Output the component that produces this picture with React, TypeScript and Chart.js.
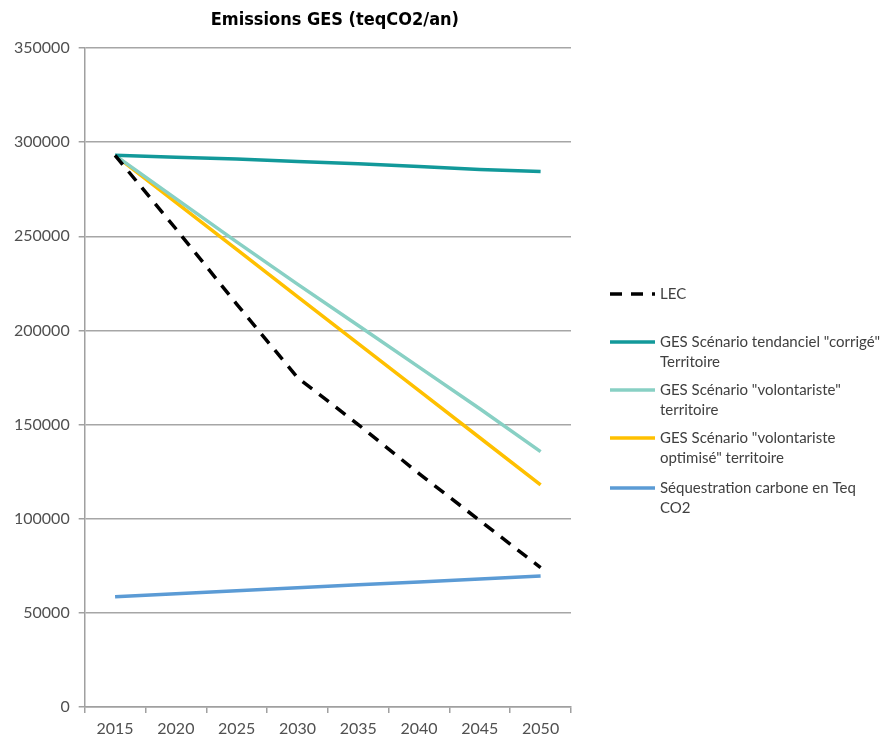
import React, { useEffect, useRef } from "react";
import { Chart, registerables } from "chart.js";

Chart.register(...registerables);

const years = ["2015", "2020", "2025", "2030", "2035", "2040", "2045", "2050"];
const lec = [293000, 254000, 214000, 175000, 150000, 124000, 99000, 74000];
const tendanciel = [293000, 292000, 291000, 289700, 288500, 287100, 285500, 284400];
const volontariste = [293000, 270000, 247000, 224600, 202600, 180500, 158400, 135600];
const optimise = [293000, 268000, 243000, 218000, 193000, 168000, 143000, 118000];
const sequestration = [58600, 60200, 61800, 63300, 64900, 66400, 68000, 69600];

const titleText = "Emissions GES (teqCO2/an)";
const seriesLabels: string[][] = [
  ["LEC"],
  ['GES Scénario tendanciel "corrigé"', "Territoire"],
  ['GES Scénario "volontariste"', "territoire"],
  ['GES Scénario "volontariste', 'optimisé" territoire'],
  ["Séquestration carbone en Teq", "CO2"],
];
const seriesColors = ["#000000", "#12999a", "#88d0c4", "#ffc000", "#5b9bd5"];

const legendFont = "15px Lato, 'Open Sans', sans-serif";

const customPlugin = {
  id: "customTitleLegend",
  afterDraw(chart: any) {
    const { ctx, chartArea } = chart;
    ctx.save();
    // title
    ctx.font = "bold 18px 'DejaVu Sans Condensed', 'DejaVu Sans', sans-serif";
    ctx.fillStyle = "#000000";
    ctx.textAlign = "center";
    ctx.textBaseline = "middle";
    ctx.fillText(titleText, (chartArea.left + chartArea.right) / 2 + 7, 20);
    // legend
    const itemTops = [294, 342, 390, 438, 488];
    const x0 = chartArea.right + 39;
    const x1 = chartArea.right + 84;
    const tx = chartArea.right + 89;
    chart.data.datasets.forEach((ds: any, i: number) => {
      const y = itemTops[i];
      ctx.strokeStyle = ds.borderColor;
      ctx.lineWidth = 3.5;
      ctx.setLineDash(ds.borderDash || []);
      ctx.beginPath();
      ctx.moveTo(x0, y);
      ctx.lineTo(x1, y);
      ctx.stroke();
      ctx.setLineDash([]);
      ctx.font = legendFont;
      ctx.fillStyle = "#404040";
      ctx.textAlign = "left";
      ctx.textBaseline = "middle";
      const lines: string[] = seriesLabels[i];
      lines.forEach((t, k) => ctx.fillText(t, tx, y + k * 20));
    });
    ctx.restore();
  },
};

export default function App() {
  const ref = useRef<HTMLCanvasElement | null>(null);
  useEffect(() => {
    document.body.style.margin = "0";
    const seriesData = [lec, tendanciel, volontariste, optimise, sequestration];
    const chart = new Chart(ref.current as HTMLCanvasElement, {
      type: "line",
      data: {
        labels: years,
        datasets: seriesData.map((d, i) => ({
          label: seriesLabels[i].join(" "),
          data: d,
          borderColor: seriesColors[i],
          backgroundColor: seriesColors[i],
          borderWidth: 3.5,
          borderDash: i === 0 ? [12, 9] : [],
          pointRadius: 0,
          tension: 0,
          fill: false,
        })),
      },
      options: {
        animation: false,
        responsive: true,
        maintainAspectRatio: false,
        layout: { padding: { top: 48, left: 5, right: 323, bottom: 0 } },
        plugins: {
          legend: { display: false },
          title: { display: false },
          tooltip: { enabled: false },
        },
        scales: {
          x: {
            type: "category",
            offset: true,
            afterFit: (scale: any) => {
              scale.height = 32;
            },
            grid: {
              display: true,
              drawOnChartArea: false,
              offset: true,
              tickLength: 6,
              tickColor: "#a0a0a0",
              lineWidth: 1.5,
            },
            border: { display: true, color: "#a0a0a0", width: 1.5 },
            ticks: {
              color: "#505050",
              font: { family: "Lato, 'Open Sans', sans-serif", size: 16, lineHeight: 1 },
              padding: 8,
              maxRotation: 0,
            },
          },
          y: {
            min: 0,
            max: 350000,
            ticks: {
              stepSize: 50000,
              color: "#505050",
              font: { family: "Lato, 'Open Sans', sans-serif", size: 16 },
              padding: 9,
              callback: (v: any) => String(v),
            },
            grid: {
              color: "#a6a6a6",
              lineWidth: 1.5,
              tickLength: 6,
              tickColor: "#a0a0a0",
            },
            border: { display: true, color: "#a0a0a0", width: 1.5 },
          },
        },
      },
      plugins: [customPlugin],
    });
    return () => chart.destroy();
  }, []);
  return (
    <div style={{ width: 894, height: 739, position: "relative", background: "#ffffff" }}>
      <canvas ref={ref} />
    </div>
  );
}
